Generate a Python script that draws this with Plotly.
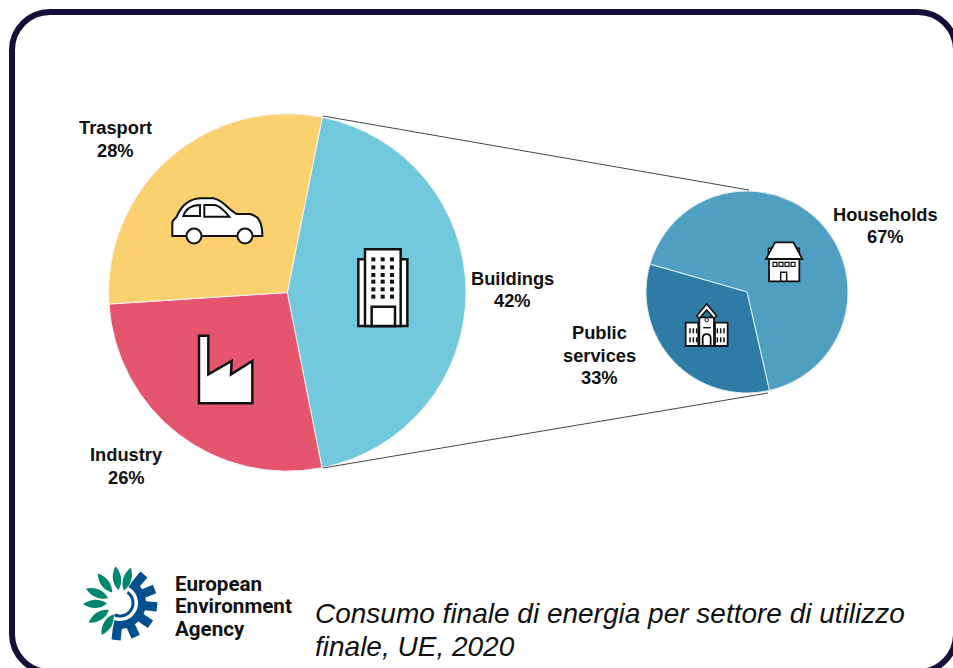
import math, re
import plotly.graph_objects as go

W, H = 953, 668
# ---- data
sector_labels = ["Buildings", "Industry", "Trasport"]
sector_values = [42, 26, 28]
sector_colors = ["#72c8dc", "#e5566e", "#fbd16f"]
building_labels = ["Households", "Public services"]
building_values = [67, 33]
building_colors = ["#4f9fc3", "#2e7ba6"]
title_lines = ["Consumo finale di energia per settore di utilizzo", "finale, UE, 2020"]
agency_lines = ["European", "Environment", "Agency"]

NAVY = "#15103a"
INK = "#111111"

def X(v): return v / W
def Y(v): return 1 - v / H

def path(d, ox=0.0, oy=0.0, s=1.0):
    """Convert an SVG-like path in image pixels (optionally a 3x crop) to paper coords."""
    toks = re.findall(r"[MLCZ]|-?\d+\.?\d*", d)
    out, isx = [], True
    for t in toks:
        if t in "MLCZ":
            out.append(t); isx = True
        else:
            v = float(t)
            if isx:
                out.append(f"{X(ox + v / s):.5f},")
            else:
                out.append(f"{Y(oy + v / s):.5f}")
            isx = not isx
    res = ""
    for t in out:
        res += t if t.endswith(",") else t + " "
    return res.strip()

shapes = []
def sh(d, fill="white", line="#111111", lw=2.0, **k):
    shapes.append(dict(type="path", xref="paper", yref="paper", path=path(d, **k),
                       fillcolor=fill, line=dict(color=line, width=lw), layer="above"))

def circ(cx, cy, r, fill="white", line="#111111", lw=2.0):
    shapes.append(dict(type="circle", xref="paper", yref="paper", x0=X(cx-r), x1=X(cx+r),
                       y0=Y(cy+r), y1=Y(cy-r), fillcolor=fill, line=dict(color=line, width=lw), layer="above"))

def dom(cx, cy, r):
    return dict(x=[X(cx-r), X(cx+r)], y=[Y(cy+r), Y(cy-r)])

fig = go.Figure()
fig.add_trace(go.Pie(labels=sector_labels, values=sector_values, sort=False, direction="clockwise",
                     rotation=11.3, textinfo="none", hoverinfo="label+value", showlegend=False,
                     marker=dict(colors=sector_colors, line=dict(color="#f4f4f4", width=1)),
                     domain=dom(287.3, 292.5, 178.7)))
fig.add_trace(go.Pie(labels=building_labels, values=building_values, sort=False, direction="clockwise",
                     rotation=-74, textinfo="none", hoverinfo="label+value", showlegend=False,
                     marker=dict(colors=building_colors, line=dict(color="#dfeef4", width=1)),
                     domain=dom(747, 292, 101)))

# frame
k = 0.5523 * 38
l, t, r, b = 12, 12, 956, 672
sh(f"M {l+38} {t} L {r-38} {t} C {r-38+k} {t} {r} {t+38-k} {r} {t+38} L {r} {b-38} "
   f"C {r} {b-38+k} {r-38+k} {b} {r-38} {b} L {l+38} {b} C {l+38-k} {b} {l} {b-38+k} {l} {b-38} "
   f"L {l} {t+38} C {l} {t+38-k} {l+38-k} {t} {l+38} {t} Z", fill="rgba(0,0,0,0)", line=NAVY, lw=6)

# connectors
sh("M 323 116 L 749 190", fill="rgba(0,0,0,0)", line="#444444", lw=1)
sh("M 323 468 L 768 393", fill="rgba(0,0,0,0)", line="#444444", lw=1)

# car icon (3x crop coordinates)
c = dict(ox=160, oy=180, s=3)
sh("M 37 168 L 37 125 L 50 110 C 65 75 90 55 125 55 L 160 55 C 190 60 205 90 230 102 L 270 102 "
   "C 295 108 307 125 307 168 Z", **c)
sh("M 70 108 C 78 85 95 75 120 75 L 120 108 Z", **c)
sh("M 133 75 L 165 75 C 185 80 195 95 208 110 L 133 110 Z", **c)
circ(160+102/3, 180+168/3, 7.5); circ(160+255/3, 180+168/3, 7.5)

# factory icon
sh("M 117 467 L 145 467 L 145 583 L 215 543 L 213 583 L 277 543 L 277 670 L 117 670 Z", lw=2.5, **c)

# tower icon
sh("M 595 238 L 742 238 L 742 438 L 595 438 Z", lw=2.5, **c)
sh("M 615 208 L 722 208 L 722 438 L 615 438 Z", lw=2.5, **c)
sh("M 635 380 L 705 380 L 705 438 L 635 438 Z", lw=2.5, **c)
for wy in (238, 262, 285, 305, 328, 350):
    for wx in (640, 668, 696):
        sh(f"M {wx-6} {wy-6} L {wx+6} {wy-6} L {wx+6} {wy+6} L {wx-6} {wy+6} Z", fill="#111111", lw=0, **c)

# house icon
h = dict(ox=640, oy=180, s=3)
sh("M 385 205 L 395 205 L 395 237 L 385 237 Z", lw=1.5, **h)
sh("M 470 205 L 478 205 L 478 237 L 470 237 Z", lw=1.5, **h)
sh("M 387 237 L 478 237 L 478 304 L 387 304 Z", lw=1.8, **h)
sh("M 378 237 L 405 187 L 460 187 L 487 237 Z", lw=1.8, **h)
for wx in (405, 423, 441, 459):
    sh(f"M {wx-6} 247 L {wx+6} 247 L {wx+6} 259 L {wx-6} 259 Z", lw=1.2, **h)
sh("M 422 277 L 440 277 L 440 304 L 422 304 Z", lw=1.5, **h)

# school icon
sh("M 137 428 L 175 428 L 175 498 L 137 498 Z", lw=1.8, **h)
sh("M 225 428 L 263 428 L 263 498 L 225 498 Z", lw=1.8, **h)
sh("M 178 412 L 222 412 L 222 498 L 178 498 Z", lw=1.8, **h)
sh("M 170 408 L 200 372 L 230 408 L 222 415 L 200 390 L 178 415 Z", lw=1.5, **h)
sh("M 188 498 L 188 475 C 188 458 212 458 212 475 L 212 498 Z", fill="white", lw=1.8, **h)
sh("M 190 443 L 212 443", fill="rgba(0,0,0,0)", lw=1.5, **h)
circ(640+200/3, 180+420/3, 1.8, lw=1)
for wx in (150, 160, 170, 232, 242, 252):
    for wy in (445, 472):
        sh(f"M {wx} {wy} L {wx} {wy+15}", fill="rgba(0,0,0,0)", lw=1.5, **h)

# EEA logo
LX, LY = 120, 603
def polar(rad, deg):
    a = math.radians(deg)
    return LX + rad * math.sin(a), LY - rad * math.cos(a)
def pts(seq):
    return "M " + " L ".join(f"{x:.2f} {y:.2f}" for x, y in seq) + " Z"
GREEN, BLUE = "#00856f", "#004f8e"
for ang in (17, -7, -37, -67, -92, -122, -150):
    p0 = polar(13, ang); p1 = polar(37, ang)
    nx, ny = math.cos(math.radians(ang)), math.sin(math.radians(ang))
    w = 5.5
    m1 = polar(29, ang); m2 = polar(20, ang)
    d = (f"M {p0[0]:.2f} {p0[1]:.2f} C {m2[0]+nx*w:.2f} {m2[1]+ny*w:.2f} {m1[0]+nx*w:.2f} {m1[1]+ny*w:.2f} {p1[0]:.2f} {p1[1]:.2f} "
         f"C {m1[0]-nx*w:.2f} {m1[1]-ny*w:.2f} {m2[0]-nx*w:.2f} {m2[1]-ny*w:.2f} {p0[0]:.2f} {p0[1]:.2f} Z")
    sh(d, fill=GREEN, line=GREEN, lw=0)
# inner arc
arc = [polar(14.5, a) for a in range(35, 206, 5)] + [polar(11.5, a) for a in range(205, 34, -5)]
sh(pts(arc), fill=BLUE, line=BLUE, lw=0)
# toothed body
outer = []
teeth = [40, 68, 96, 125, 155, 186]
for tc in teeth:
    outer += [polar(26, tc-10), polar(37.5, tc-7), polar(37.5, tc+7), polar(26, tc+10)]
inner = [polar(18, a) for a in range(198, 27, -5)]
sh(pts(outer + inner), fill=BLUE, line=BLUE, lw=0)

# text
ann = []
def text(x, y, s, size=18.3, bold=True, anchor="center", family="Liberation Sans", italic=False, color=INK):
    ann.append(dict(xref="paper", yref="paper", x=X(x), y=Y(y), xanchor=anchor, yanchor="middle",
                    showarrow=False, text=f"<b>{s}</b>" if bold else s,
                    font=dict(size=size, family=family, color=color, style="italic" if italic else "normal")))

text(115, 128, sector_labels[2]); text(115, 150, f"{sector_values[2]}%")
text(127, 455, sector_labels[1]); text(127, 477, f"{sector_values[1]}%")
text(512, 278, sector_labels[0]); text(512, 300, f"{sector_values[0]}%")
text(885.5, 214.5, building_labels[0]); text(885.5, 236, f"{building_values[0]}%")
words = building_labels[1].split()
text(599, 332.5, words[0]); text(599, 355.5, words[1]); text(599, 377.5, f"{building_values[1]}%")

for yy, s in zip((584, 606, 629), agency_lines):
    text(173, yy, s, size=20.6, anchor="left", family="Roboto")
for yy, s in zip((613, 646), title_lines):
    text(313, yy, s, size=28, bold=False, anchor="left", italic=True)

fig.update_layout(width=W, height=H, margin=dict(l=0, r=0, t=0, b=0), paper_bgcolor="white",
                  plot_bgcolor="white", showlegend=False, shapes=shapes, annotations=ann)
fig.write_html("out.html", post_script="document.body.style.margin='0';document.body.style.overflow='hidden';",
               config={"displayModeBar": False})
